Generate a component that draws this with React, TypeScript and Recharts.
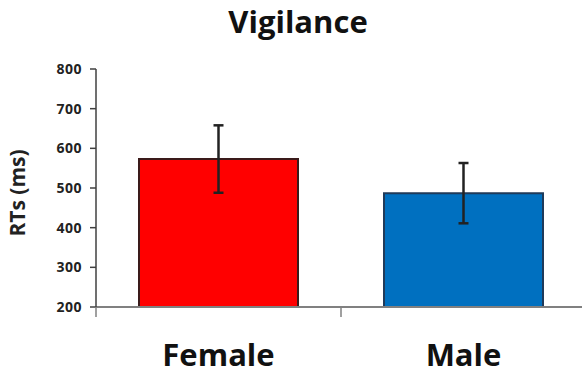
import { BarChart, Bar, XAxis, YAxis, ErrorBar, Cell } from "recharts";

const groups = ["Female", "Male"];
const meanRT = [573, 487];
const errRT = [85, 76];
const barColors = ["#ff0000", "#0070c0"];
const barStrokes = ["#3a1a1a", "#1f3a5a"];
const yTicks = [200, 300, 400, 500, 600, 700, 800];

const data = groups.map((g, i) => ({ group: g, rt: meanRT[i], err: errRT[i] }));

const font = "'Open Sans', 'DejaVu Sans', sans-serif";
const LABEL_GAP = 37;

// category label plus tick marks on the band edges (Excel style)
const GroupTick = (props: any) => {
  const { x, y, payload, width, visibleTicksCount, index } = props;
  const half = width / visibleTicksCount / 2;
  const axisY = y - LABEL_GAP;
  return (
    <g>
      <line x1={x - half} x2={x - half} y1={axisY} y2={axisY + 10} stroke="#808080" strokeWidth={1.5} />
      {index === visibleTicksCount - 1 && (
        <line x1={x + half} x2={x + half} y1={axisY} y2={axisY + 10} stroke="#808080" strokeWidth={1.5} />
      )}
      <text x={x} y={y} dy="0.71em" textAnchor="middle" fontSize={31} fontWeight={700} fill="#111" fontFamily={font}>
        {payload.value}
      </text>
    </g>
  );
};

export default function App() {
  return (
    <div style={{ position: "fixed", left: 0, top: 0, width: 582, height: 370, overflow: "hidden", background: "#fff", fontFamily: font }}>
      <div style={{ position: "absolute", left: 7, width: 582, top: 0, textAlign: "center", fontSize: 31, fontWeight: 700, color: "#111" }}>
        Vigilance
      </div>
      <BarChart width={590} height={370} data={data} margin={{ top: 69, right: 4, left: 0, bottom: 0 }} barSize={159}>
        <XAxis
          dataKey="group"
          axisLine={{ stroke: "#808080", strokeWidth: 2 }}
          tickLine={false}
          tickSize={0}
          tick={<GroupTick />}
          tickMargin={LABEL_GAP}
          interval={0}
          height={63}
        />
        <YAxis
          domain={[200, 800]}
          ticks={yTicks}
          interval={0}
          width={96}
          axisLine={{ stroke: "#404040", strokeWidth: 1.5 }}
          tickLine={{ stroke: "#404040", strokeWidth: 1.5 }}
          tickSize={6}
          tickMargin={8}
          tick={{ fontSize: 14, fontWeight: 700, fill: "#222", fontFamily: font, letterSpacing: 0.5 }}
          label={{ value: "RTs (ms)", angle: -90, position: "insideLeft", offset: 18, dy: 5, style: { fontSize: 21, fontWeight: 700, fill: "#222", fontFamily: font, textAnchor: "middle" } }}
        />
        <Bar dataKey="rt" isAnimationActive={false} strokeWidth={2}>
          {data.map((d, i) => (
            <Cell key={d.group} fill={barColors[i]} stroke={barStrokes[i]} />
          ))}
          <ErrorBar dataKey="err" width={5} stroke="#222" strokeWidth={2.5} isAnimationActive={false} />
        </Bar>
      </BarChart>
    </div>
  );
}
